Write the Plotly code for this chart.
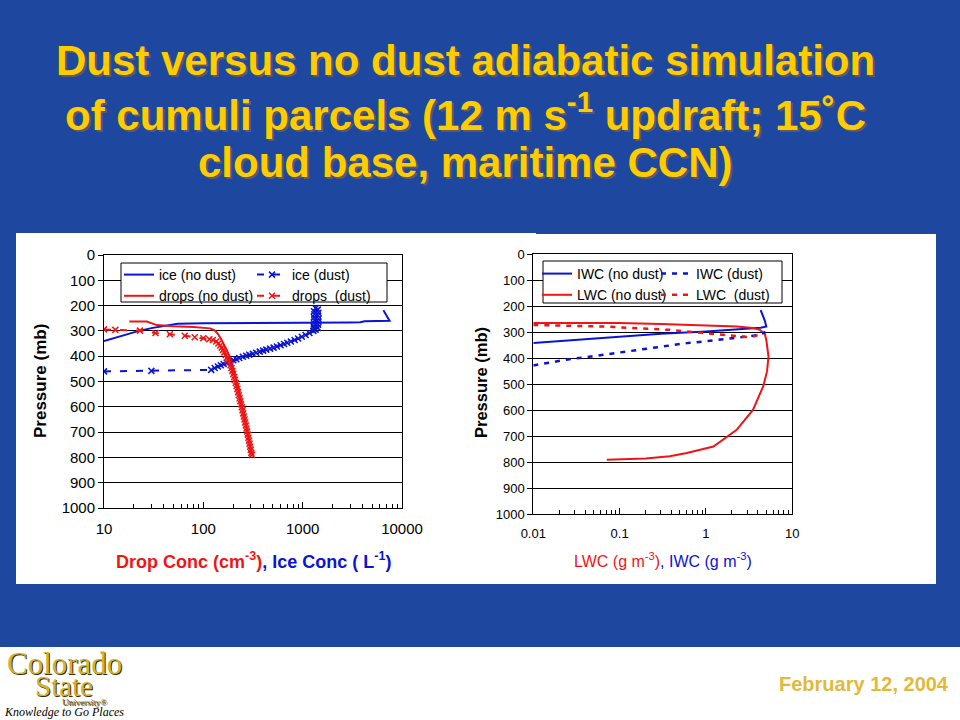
import plotly.graph_objects as go

W, H = 960, 720
BG = "#1E48A0"
BLUE = "#0A14D2"
RED = "#F01414"
FONT = "Arial, Liberation Sans, sans-serif"

# ---------------- Left chart data (conc vs pressure) ----------------
ice_nd_conc = [10, 13, 17, 22, 30, 45, 55, 100, 300, 1000, 3000, 3800, 4200, 7500, 6500]
ice_nd_p = [340, 326, 313, 301, 289, 279, 272, 270, 270, 268, 267, 266, 262, 260, 218]

ice_d_conc = [10, 30, 120, 130, 140, 150, 160, 172, 185, 200, 215, 230, 250, 270, 290,
              315, 340, 370, 400, 430, 470, 510, 550, 600, 650, 700, 760, 830, 900,
              980, 1070, 1170, 1280, 1350, 1300, 1420, 1290, 1430, 1300, 1440, 1310,
              1440, 1300, 1430, 1310, 1440, 1300, 1420, 1350]
ice_d_p = [460, 458, 454, 447, 441, 436, 431, 426, 421, 416, 412, 407, 402, 398, 394,
           390, 386, 382, 378, 374, 370, 366, 362, 357, 352, 347, 342, 336, 330,
           323, 316, 308, 300, 295, 292, 288, 282, 276, 270, 264, 258,
           252, 246, 240, 234, 228, 222, 216, 210]

drop_nd_conc = [18, 27, 34, 50, 80, 117, 130, 140, 150, 160, 170, 185, 200, 215, 230,
                245, 260, 275, 290, 305]
drop_nd_p = [263, 263, 277, 282, 285, 290, 298, 312, 330, 350, 372, 405, 445, 490, 540,
             590, 640, 690, 740, 790]

drop_d_conc = [10, 13, 23, 33, 46, 65, 82, 100, 115, 125, 135, 142, 148, 153, 158, 163,
               168, 173, 178, 183, 188, 192, 196, 200, 204, 208, 212, 216, 220, 224,
               228, 232, 236, 240, 244, 248, 252, 256, 260, 264, 268, 272, 276, 280,
               284, 288, 292, 296, 300, 304, 308]
drop_d_p = [294, 296, 299, 308, 313, 319, 325, 329, 333, 336, 342, 350, 358, 366, 375, 385,
            395, 405, 415, 425, 436, 447, 458, 470, 482, 494, 506, 518, 530, 542,
            554, 566, 578, 590, 602, 614, 626, 638, 650, 662, 674, 686, 698, 710,
            722, 734, 746, 758, 770, 782, 790]

# ---------------- Right chart data (water content vs pressure) ----------------
iwc_nd = [0.01, 0.03, 0.1, 0.3, 1.0, 2.0, 3.0, 4.3, 5.0, 4.8, 4.3]
iwc_nd_p = [342, 330, 318, 306, 297, 291, 287, 283, 278, 255, 215]

iwc_d = [0.01, 0.024, 0.05, 0.1, 0.3, 0.6, 1.2, 2.27, 3.5, 4.6, 4.9]
iwc_d_p = [428, 406, 392, 378, 355, 342, 332, 323, 314, 304, 298]

lwc_nd = [0.01, 0.1, 0.3, 0.93, 2.27, 3.5, 4.2, 4.8, 5.0, 5.3, 5.1, 4.6, 3.5, 2.27,
          1.22, 0.6, 0.38, 0.2, 0.071]
lwc_nd_p = [265, 265, 268, 272, 278, 284, 291, 305, 330, 394, 450, 509, 599, 676,
            740, 765, 778, 786, 791]

lwc_d = [0.01, 0.065, 0.38, 1.11, 2.27, 2.9, 3.6, 4.6]
lwc_d_p = [272, 278, 291, 304, 313, 318, 316, 304]

# ---------------- Axis ticks ----------------
p_ticks = [0, 100, 200, 300, 400, 500, 600, 700, 800, 900, 1000]
left_xticks = [10, 100, 1000, 10000]
left_xlabels = ["10", "100", "1000", "10000"]
right_xticks = [0.01, 0.1, 1, 10]
right_xlabels = ["0.01", "0.1", "1", "10"]

def px(x):
    return x / W

def py(y):
    return 1 - y / H

fig = go.Figure()

# left traces
fig.add_trace(go.Scatter(x=ice_nd_conc, y=ice_nd_p, mode="lines", name="ice (no dust)",
                         line=dict(color=BLUE, width=2), xaxis="x", yaxis="y", legend="legend"))
fig.add_trace(go.Scatter(x=drop_nd_conc, y=drop_nd_p, mode="lines", name="drops (no dust)",
                         line=dict(color=RED, width=2), xaxis="x", yaxis="y", legend="legend"))
fig.add_trace(go.Scatter(x=ice_d_conc, y=ice_d_p, mode="lines+markers", name="ice (dust)",
                         line=dict(color=BLUE, width=2, dash="7px,9px"),
                         marker=dict(symbol="x-thin", size=6, line=dict(color=BLUE, width=1.5)),
                         xaxis="x", yaxis="y", legend="legend2"))
fig.add_trace(go.Scatter(x=drop_d_conc, y=drop_d_p, mode="lines+markers", name="drops  (dust)",
                         line=dict(color=RED, width=2, dash="7px,9px"),
                         marker=dict(symbol="x-thin", size=6, line=dict(color=RED, width=1.5)),
                         xaxis="x", yaxis="y", legend="legend2"))

# right traces
fig.add_trace(go.Scatter(x=iwc_nd, y=iwc_nd_p, mode="lines", name="IWC (no dust)",
                         line=dict(color=BLUE, width=2), xaxis="x2", yaxis="y2", legend="legend3"))
fig.add_trace(go.Scatter(x=lwc_nd, y=lwc_nd_p, mode="lines", name="LWC (no dust)",
                         line=dict(color=RED, width=2), xaxis="x2", yaxis="y2", legend="legend3"))
fig.add_trace(go.Scatter(x=iwc_d, y=iwc_d_p, mode="lines", name="IWC (dust)",
                         line=dict(color=BLUE, width=2.5, dash="5px,6px"),
                         xaxis="x2", yaxis="y2", legend="legend4"))
fig.add_trace(go.Scatter(x=lwc_d, y=lwc_d_p, mode="lines", name="LWC  (dust)",
                         line=dict(color=RED, width=2.5, dash="5px,6px"),
                         xaxis="x2", yaxis="y2", legend="legend4"))

def xaxis_def(dom, rng, tv, tt, fs):
    return dict(domain=dom, type="log", range=rng, tickvals=tv, ticktext=tt,
                ticks="inside", ticklen=6, tickcolor="black", showgrid=False,
                showline=True, linecolor="black", linewidth=1, mirror=True,
                tickfont=dict(family=FONT, size=fs, color="black"),
                ticklabelstandoff=7,
                minor=dict(ticks="inside", ticklen=4, tickcolor="black", dtick="D1",
                           showgrid=False),
                zeroline=False, fixedrange=True, automargin=False)

def yaxis_def(dom, anchor, fs):
    return dict(domain=dom, anchor=anchor, range=[1000, 0], tickvals=p_ticks,
                ticks="outside", ticklen=5, tickcolor="black",
                showgrid=True, gridcolor="black", gridwidth=1,
                showline=True, linecolor="black", linewidth=1, mirror=True,
                tickfont=dict(family=FONT, size=fs, color="black"),
                zeroline=False, fixedrange=True, automargin=False)

leg_common = dict(bgcolor="rgba(0,0,0,0)", borderwidth=0, xanchor="left", yanchor="top",
                  tracegroupgap=0, itemwidth=30, orientation="v")

fig.update_layout(
    template="none",
    width=W, height=H, margin=dict(l=0, r=0, t=0, b=0, pad=0, autoexpand=False),
    paper_bgcolor=BG, plot_bgcolor="white", showlegend=True,
    xaxis=xaxis_def([px(104), px(402)], [1, 4], left_xticks, left_xlabels, 15),
    yaxis=yaxis_def([py(508), py(255)], "x", 15),
    xaxis2=xaxis_def([px(533.3), px(792.3)], [-2, 1], right_xticks, right_xlabels, 13),
    yaxis2=yaxis_def([py(514), py(254.3)], "x2", 13),
    legend=dict(leg_common, x=px(119), y=py(259),
                font=dict(family=FONT, size=14, color="black")),
    legend2=dict(leg_common, x=px(252), y=py(259),
                 font=dict(family=FONT, size=14, color="black")),
    legend3=dict(leg_common, x=px(537), y=py(258),
                 font=dict(family=FONT, size=14, color="black")),
    legend4=dict(leg_common, x=px(656), y=py(258),
                 font=dict(family=FONT, size=14, color="black")),
)
fig.layout.xaxis2.anchor = "y2"

shapes = [
    dict(type="rect", xref="paper", yref="paper", x0=px(16), x1=px(936), y0=py(584), y1=py(234),
         fillcolor="white", line=dict(width=0), layer="below"),
    dict(type="rect", xref="paper", yref="paper", x0=px(16), x1=px(536), y0=py(240), y1=py(233),
         fillcolor="white", line=dict(width=0), layer="below"),
    dict(type="rect", xref="paper", yref="paper", x0=0, x1=1, y0=0, y1=py(647),
         fillcolor="white", line=dict(width=0), layer="below"),
    dict(type="rect", xref="paper", yref="paper", x0=px(121), x1=px(387), y0=py(302), y1=py(263),
         fillcolor="white", line=dict(color="black", width=1), layer="above"),
    dict(type="rect", xref="paper", yref="paper", x0=px(543), x1=px(782), y0=py(303), y1=py(261),
         fillcolor="white", line=dict(color="black", width=1), layer="above"),
]
fig.update_layout(shapes=shapes)

ann = []
TITLE = ["Dust versus no dust adiabatic simulation",
         "of cumuli parcels (12 m s<sup>-1</sup> updraft; 15˚C",
         "cloud base, maritime CCN)"]
ty = [60, 112, 163]
for t, yy in zip(TITLE, ty):
    ann.append(dict(text=t, x=px(467), y=py(yy + 2), xref="paper", yref="paper",
                    showarrow=False, xanchor="center", yanchor="middle",
                    font=dict(family=FONT, size=42, color="#5a5a6a", weight="bold")))
    ann.append(dict(text=t, x=px(465), y=py(yy), xref="paper", yref="paper",
                    showarrow=False, xanchor="center", yanchor="middle",
                    font=dict(family=FONT, size=42, color="#FFCC00", weight="bold")))

# axis titles
ann.append(dict(text="Pressure (mb)", x=px(40), y=py(381), xref="paper", yref="paper",
                showarrow=False, textangle=-90, xanchor="center", yanchor="middle",
                font=dict(family=FONT, size=17, color="black", weight="bold")))
ann.append(dict(text="Pressure (mb)", x=px(481), y=py(383), xref="paper", yref="paper",
                showarrow=False, textangle=-90, xanchor="center", yanchor="middle",
                font=dict(family=FONT, size=16.5, color="black", weight="bold")))
ann.append(dict(text='<span style="color:#F01414">Drop Conc (cm<sup>-3</sup>)</span>'
                     '<span style="color:#0A14D2">, Ice Conc ( L<sup>-1</sup>)</span>',
                x=px(253), y=py(560), xref="paper", yref="paper", showarrow=False,
                xanchor="center", yanchor="middle",
                font=dict(family=FONT, size=18, color="black", weight="bold")))
ann.append(dict(text='<span style="color:#F01414">LWC (g m<sup>-3</sup>)</span>'
                     '<span style="color:#0A14D2">, IWC (g m<sup>-3</sup>)</span>',
                x=px(663), y=py(560), xref="paper", yref="paper", showarrow=False,
                xanchor="center", yanchor="middle",
                font=dict(family=FONT, size=16, color="black")))

# footer
ann.append(dict(text="February 12, 2004", x=px(951), y=py(684), xref="paper", yref="paper",
                showarrow=False, xanchor="right", yanchor="middle",
                font=dict(family=FONT, size=20, color="#E2B93B", weight="bold")))
logo = [("Colorado", 64, 663, 31, "#D2B232"),
        ("State", 64, 686, 29, "#D2B232"),
        ("University®", 84, 702, 9, "#8a7020")]
for t, x, y, s, c in logo:
    ann.append(dict(text=t, x=px(x + 1), y=py(y + 1), xref="paper", yref="paper",
                    showarrow=False, xanchor="center", yanchor="middle",
                    font=dict(family="Liberation Serif, Times New Roman, serif", size=s,
                              color="#3a2a00")))
    ann.append(dict(text=t, x=px(x), y=py(y), xref="paper", yref="paper",
                    showarrow=False, xanchor="center", yanchor="middle",
                    font=dict(family="Liberation Serif, Times New Roman, serif", size=s,
                              color=c)))
ann.append(dict(text="<i>Knowledge to Go Places</i>", x=px(64), y=py(712), xref="paper",
                yref="paper", showarrow=False, xanchor="center", yanchor="middle",
                font=dict(family="Liberation Serif, Times New Roman, serif", size=12,
                          color="black")))
fig.update_layout(annotations=ann)

fig.write_html("out.html", config={"displayModeBar": False},
               post_script="document.body.style.margin='0';"
                           "document.body.style.padding='0';"
                           "document.body.style.overflow='hidden';")
